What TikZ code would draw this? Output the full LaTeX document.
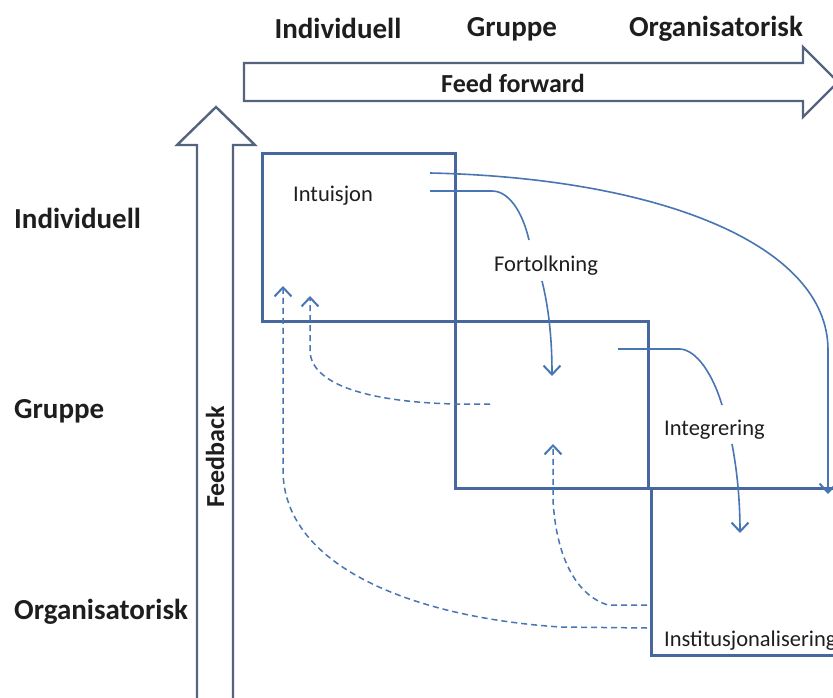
\documentclass[tikz,border=0pt]{standalone}
\usepackage{fontspec}
\setmainfont{Carlito}
\usetikzlibrary{arrows.meta}
\definecolor{boxblue}{RGB}{70,104,158}
\definecolor{flowblue}{RGB}{72,118,178}
\definecolor{bigarrow}{RGB}{84,100,126}
\definecolor{labelgray}{RGB}{30,30,30}
\tikzset{
  x=1pt, y=-1pt,
  levelbox/.style={draw=boxblue, line width=3pt},
  bigshaft/.style={draw=bigarrow, line width=2.4pt, fill=white, line join=miter},
  barb/.style={-{Straight Barb[length=9pt,width=17pt,line width=2pt]}},
  flow/.style={draw=flowblue, line width=1.6pt, barb},
  flowplain/.style={draw=flowblue, line width=1.6pt},
  backflow/.style={draw=flowblue, line width=1.5pt, dash pattern=on 6pt off 4pt, barb},
  axislabel/.style={font=\fontsize{29}{30}\selectfont\bfseries, text=labelgray, inner sep=0pt},
  arrowlabel/.style={font=\fontsize{26}{27}\selectfont\bfseries, text=labelgray, inner sep=0pt},
  steplabel/.style={font=\fontsize{22.5}{24}\selectfont, text=labelgray, inner sep=0pt, anchor=base west},
}
\begin{document}
\begin{tikzpicture}
\useasboundingbox (0,0) rectangle (833,698);
\clip (0,0) rectangle (833,698);
\fill[white] (0,0) rectangle (833,698);

% column headings
\node[axislabel, anchor=base] (colInd) at (338,39) {Individuell};
\node[axislabel, anchor=base] (colGrp) at (512,37) {Gruppe};
\node[axislabel, anchor=base] (colOrg) at (716,37) {Organisatorisk};

% row headings
\node[axislabel, anchor=base west] (rowInd) at (14,228) {Individuell};
\node[axislabel, anchor=base west] (rowGrp) at (14,418) {Gruppe};
\node[axislabel, anchor=base west] (rowOrg) at (14,619) {Organisatorisk};

% feed forward block arrow
\path[bigshaft] (244,63) -- (803,63) -- (803,47) -- (838,82) -- (803,117) -- (803,101) -- (244,101) -- cycle;
\node[arrowlabel, anchor=base] (ff) at (513,93) {Feed forward};

% feedback block arrow
\path[bigshaft] (197,710) -- (197,145) -- (177,145) -- (216,107) -- (255,145) -- (233,145) -- (233,710) -- cycle;
\node[arrowlabel, rotate=90] (fb) at (215,457) {Feedback};

% level boxes
\draw[levelbox] (262,154) rectangle (455,321);
\draw[levelbox] (262,321) -- (648,321) -- (648,488);
\draw[levelbox] (455,321) -- (455,488) -- (845,488);
\draw[levelbox] (651,488) -- (651,655) -- (845,655);

% process labels
\node[steplabel] (intu) at (293,201) {Intuisjon};
\node[steplabel] (fort) at (494,271) {Fortolkning};
\node[steplabel] (integ) at (664,435) {Integrering};
\node[steplabel] (inst) at (664,646) {Institusjonalisering};

% feed forward flows
\coordinate (ffStart) at (430,173);
\coordinate (ffEnd) at (828,494);
\draw[flow] (ffStart) .. controls (660,178) and (828,245) .. (828,350) -- (ffEnd);

\coordinate (iStart) at (430,191);
\coordinate (iMid) at (529,240);
\draw[flowplain] (iStart) -- (492,191) .. controls (508,191) and (522,210) .. (iMid);
\coordinate (fStart) at (542,281);
\coordinate (fEnd) at (552,376);
\draw[flow] (fStart) .. controls (548,305) and (552,335) .. (fEnd);

\coordinate (gStart) at (618,349);
\coordinate (gMid) at (722,405);
\draw[flowplain] (gStart) -- (680,349) .. controls (697,350) and (713,375) .. (gMid);
\coordinate (gtStart) at (732,444);
\coordinate (gtEnd) at (740,533);
\draw[flow] (gtStart) .. controls (737,470) and (740,500) .. (gtEnd);

% feedback flows
\coordinate (bGrp) at (490,404);
\coordinate (bGrpEnd) at (310,296);
\draw[backflow] (bGrp) -- (455,404) .. controls (370,402) and (310,385) .. (310,350) -- (bGrpEnd);

\coordinate (bOrgA) at (647,605);
\coordinate (bOrgAEnd) at (553,444);
\draw[backflow] (bOrgA) -- (608,605) .. controls (575,595) and (556,555) .. (553,500) -- (bOrgAEnd);

\coordinate (bOrgB) at (647,628);
\coordinate (bOrgBEnd) at (283,286);
\draw[backflow] (bOrgB) -- (560,627) .. controls (410,617) and (283,565) .. (283,470) -- (bOrgBEnd);
\end{tikzpicture}
\end{document}
